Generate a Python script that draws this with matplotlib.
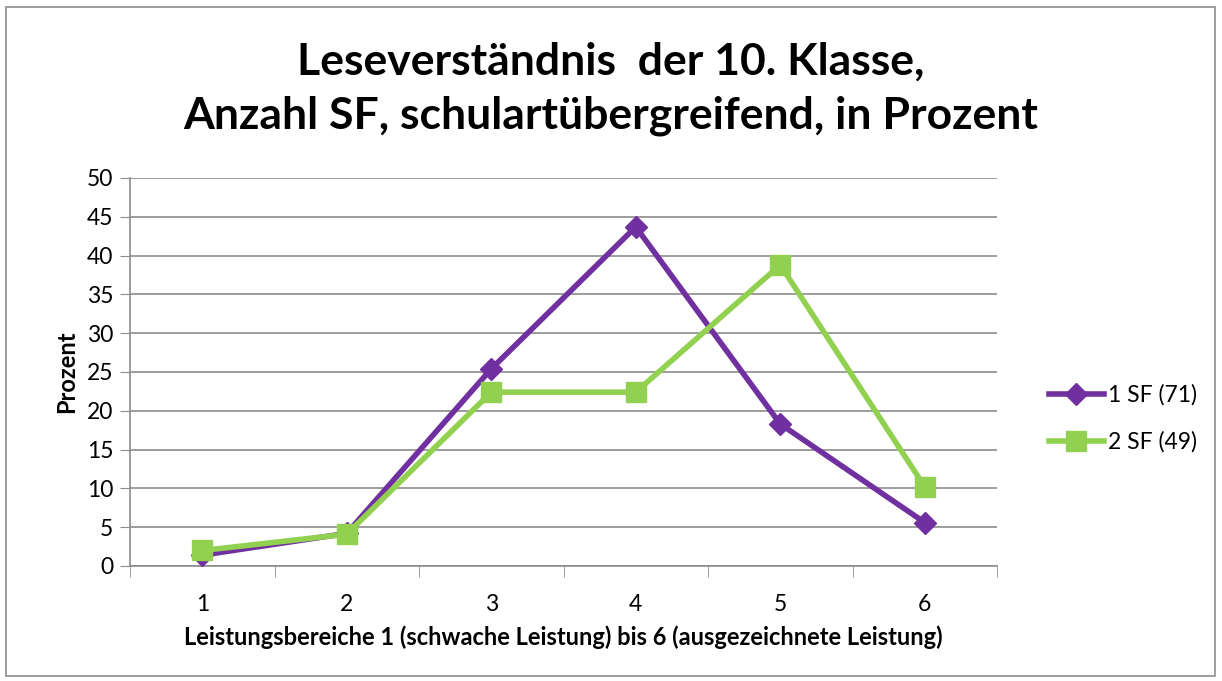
import matplotlib.pyplot as plt
from matplotlib.patches import Rectangle
from matplotlib.ticker import FixedLocator

plt.rcParams['font.family'] = ['Lato', 'DejaVu Sans']

# data (percent per performance level)
levels = [1, 2, 3, 4, 5, 6]
sf1 = [1.4, 4.2, 25.4, 43.7, 18.3, 5.6]
sf2 = [2.0, 4.1, 22.4, 22.4, 38.8, 10.2]
series_names = ['1 SF (71)', '2 SF (49)']

fig = plt.figure(figsize=(12.22, 6.81), dpi=100)
ax = fig.add_axes([130 / 1222, 115 / 681, 867 / 1222, 388 / 681])

# outer chart border
fig.patches.append(Rectangle((6 / 1222, 5 / 681), 1209 / 1222, 669 / 681,
                             transform=fig.transFigure, fill=False,
                             edgecolor='#8c8c8c', linewidth=1.2))

ax.plot(levels, sf1, color='#7030a0', linewidth=4, marker='D', markersize=11,
        label=series_names[0], zorder=3)
ax.plot(levels, sf2, color='#92d050', linewidth=4, marker='s', markersize=14,
        label=series_names[1], zorder=4)

ax.set_xlim(0.5, 6.5)
ax.set_ylim(0, 50)
ax.set_yticks(range(0, 51, 5))
ax.set_xticks(levels)
ax.xaxis.set_minor_locator(FixedLocator([0.5 + i for i in range(7)]))
ax.tick_params(axis='x', which='major', length=0, labelsize=16.5, pad=20)
ax.tick_params(axis='x', which='minor', length=8, color='#8c8c8c')
ax.tick_params(axis='y', length=7, color='#8c8c8c', labelsize=16.5, pad=5)
ax.grid(axis='y', color='#8c8c8c', linewidth=1.2)
ax.set_axisbelow(True)
for side in ['top', 'right']:
    ax.spines[side].set_visible(False)
for side in ['left', 'bottom']:
    ax.spines[side].set_color('#8c8c8c')
    ax.spines[side].set_linewidth(1.2)

ax.set_ylabel('Prozent', fontsize=17, fontweight='bold', labelpad=6)
ax.set_xlabel('Leistungsbereiche 1 (schwache Leistung) bis 6 (ausgezeichnete Leistung)',
              fontsize=17, fontweight='bold', labelpad=8)

fig.text(611 / 1222, 1 - 89 / 681,
         'Leseverständnis  der 10. Klasse,\nAnzahl SF, schulartübergreifend, in Prozent',
         ha='center', va='center', fontsize=32, fontweight='bold', linespacing=1.4)

ax.legend(loc='center left', bbox_to_anchor=(1.036, 0.38), frameon=False,
          fontsize=16.5, handlelength=2.4, labelspacing=1.1, handletextpad=0.2)

plt.savefig('out.png', dpi=100)
